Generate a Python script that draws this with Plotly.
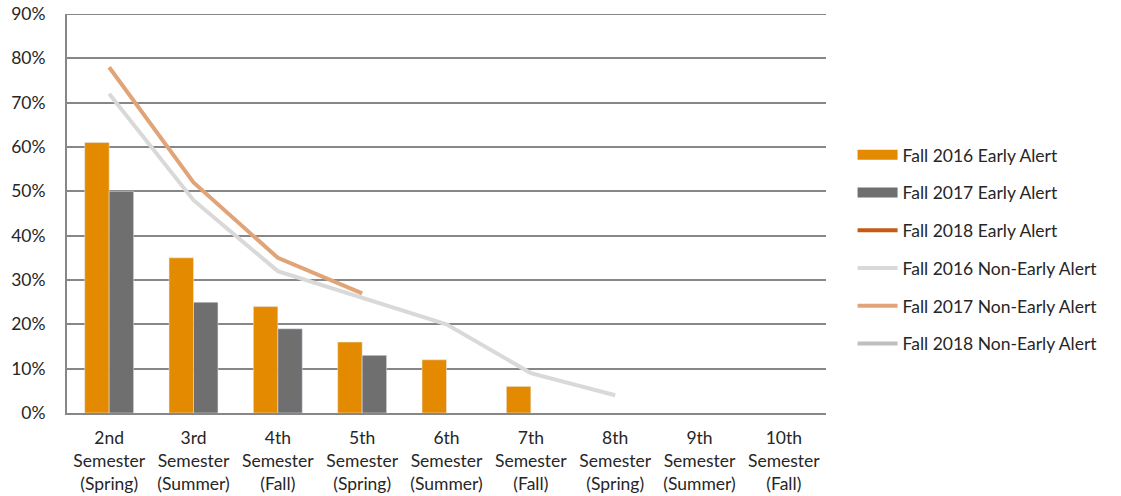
import plotly.graph_objects as go

categories = ["2nd<br>Semester<br>(Spring)", "3rd<br>Semester<br>(Summer)", "4th<br>Semester<br>(Fall)",
              "5th<br>Semester<br>(Spring)", "6th<br>Semester<br>(Summer)", "7th<br>Semester<br>(Fall)",
              "8th<br>Semester<br>(Spring)", "9th<br>Semester<br>(Summer)", "10th<br>Semester<br>(Fall)"]

fall2016_ea = [0.61, 0.35, 0.24, 0.16, 0.12, 0.06, None, None, None]
fall2017_ea = [0.50, 0.25, 0.19, 0.13, None, None, None, None, None]
fall2018_ea = [None] * 9
fall2016_nea = [0.72, 0.48, 0.32, 0.26, 0.20, 0.09, 0.04, None, None]
fall2017_nea = [0.78, 0.52, 0.35, 0.27, None, None, None, None, None]
fall2018_nea = [None] * 9

y_ticks = [0, 0.1, 0.2, 0.3, 0.4, 0.5, 0.6, 0.7, 0.8, 0.9]
y_tick_labels = ["0%", "10%", "20%", "30%", "40%", "50%", "60%", "70%", "80%", "90%"]

FONT = "Lato, 'Open Sans', sans-serif"
FS = 17.5

fig = go.Figure()
fig.add_trace(go.Bar(x=categories, y=fall2016_ea, name="Fall 2016 Early Alert",
                     marker_color="#E38A00", legendgroup="a", showlegend=False))
fig.add_trace(go.Bar(x=categories, y=fall2017_ea, name="Fall 2017 Early Alert",
                     marker_color="#6F6F6F", legendgroup="b", showlegend=False))
# legend keys for the bar series (wide rectangles)
fig.add_trace(go.Scatter(x=categories, y=[None] * 9, name="Fall 2016 Early Alert", mode="lines",
                         line=dict(color="#E38A00", width=11), legendgroup="a", hoverinfo="skip"))
fig.add_trace(go.Scatter(x=categories, y=[None] * 9, name="Fall 2017 Early Alert", mode="lines",
                         line=dict(color="#6F6F6F", width=11), legendgroup="b", hoverinfo="skip"))
fig.add_trace(go.Scatter(x=categories, y=fall2018_ea, name="Fall 2018 Early Alert", mode="lines",
                         line=dict(color="#C55A11", width=4), legendgroup="c"))
fig.add_trace(go.Scatter(x=categories, y=fall2016_nea, name="Fall 2016 Non-Early Alert", mode="lines",
                         line=dict(color="#D9D9D9", width=4), legendgroup="d"))
fig.add_trace(go.Scatter(x=categories, y=fall2017_nea, name="Fall 2017 Non-Early Alert", mode="lines",
                         line=dict(color="#E0A478", width=4), legendgroup="e"))
fig.add_trace(go.Scatter(x=categories, y=fall2018_nea, name="Fall 2018 Non-Early Alert", mode="lines",
                         line=dict(color="#BFBFBF", width=4), legendgroup="f"))

fig.update_layout(
    width=1121, height=496,
    margin=dict(l=67, r=295, t=14, b=83),
    plot_bgcolor="white", paper_bgcolor="white",
    barmode="group", bargap=0.42, bargroupgap=0,
    font=dict(family=FONT, size=FS, color="#262626"),
    showlegend=True,
    legend=dict(x=1.035, xanchor="left", y=0.41, yanchor="middle",
                font=dict(family=FONT, size=FS, color="#262626"),
                tracegroupgap=12, traceorder="grouped", itemwidth=40),
)
fig.update_xaxes(showline=True, linecolor="#878787", linewidth=2, showgrid=False,
                 ticks="", automargin=False, ticklabelstandoff=8,
                 tickfont=dict(family=FONT, size=FS, color="#262626"))
fig.update_yaxes(range=[0, 0.9], tickmode="array", tickvals=y_ticks, ticktext=y_tick_labels,
                 showgrid=True, gridcolor="#878787", gridwidth=2, showline=True, linecolor="#878787",
                 linewidth=2, zeroline=False, ticks="", ticklabelstandoff=16, automargin=False,
                 ticklabeloverflow="allow",
                 tickfont=dict(family=FONT, size=FS, color="#262626"))
fig.add_shape(type="line", xref="paper", yref="y", x0=0, x1=1, y0=0.9, y1=0.9,
              line=dict(color="#878787", width=2))

fig.write_html("out.html", config={"displayModeBar": False},
               post_script="document.body.style.margin='0';")
